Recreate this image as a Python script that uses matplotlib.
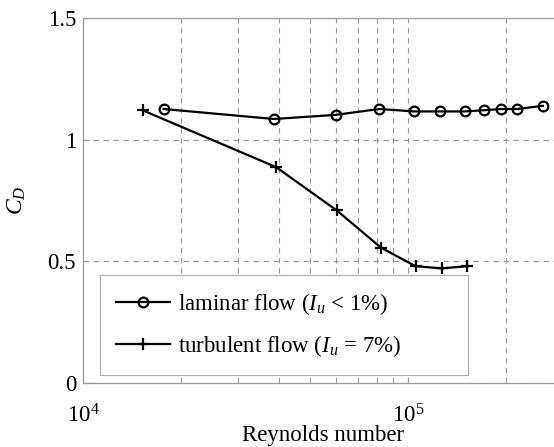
import numpy as np
import matplotlib
matplotlib.use('Agg')
import matplotlib.pyplot as plt
from matplotlib.ticker import FixedLocator, NullFormatter

plt.rcParams['font.family'] = ['Liberation Serif', 'DejaVu Serif']
plt.rcParams['mathtext.fontset'] = 'custom'
plt.rcParams['mathtext.rm'] = 'Liberation Serif'
plt.rcParams['mathtext.it'] = 'Liberation Serif:italic'

# laminar flow (Iu < 1%)
re_lam = [1.77e4, 3.87e4, 6.0e4, 8.15e4, 1.047e5, 1.257e5, 1.494e5, 1.715e5, 1.938e5, 2.165e5, 2.6e5]
cd_lam = [1.126, 1.085, 1.102, 1.126, 1.116, 1.116, 1.116, 1.121, 1.126, 1.126, 1.139]

# turbulent flow (Iu = 7%)
re_turb = [1.53e4, 3.93e4, 6.04e4, 8.26e4, 1.055e5, 1.27e5, 1.52e5]
cd_turb = [1.12, 0.887, 0.709, 0.556, 0.480, 0.471, 0.480]

lab_lam = r'laminar flow ($I_u$ < 1%)'
lab_turb = r'turbulent flow ($I_u$ = 7%)'

fig = plt.figure(figsize=(5.54, 4.47), dpi=100)
# axes runs past the right edge of the picture (right frame is cropped)
ax = fig.add_axes([83/554, 64/447, 480/554, 365/447])

ax.semilogx(re_lam, cd_lam, color='black', lw=1.6, marker='o', ms=7,
            mfc='none', mec='black', mew=1.6, label=lab_lam)
ax.semilogx(re_turb, cd_turb, color='black', lw=1.6, marker='+', ms=9,
            mew=1.6, label=lab_turb)

ax.set_xlim(1e4, 10**(480/325 + 4))
ax.set_ylim(0, 1.5)

ax.xaxis.set_major_locator(FixedLocator([1e4, 1e5]))
ax.xaxis.set_minor_locator(FixedLocator([2e4, 3e4, 4e4, 5e4, 6e4, 7e4, 8e4, 9e4, 2e5]))
ax.xaxis.set_minor_formatter(NullFormatter())
ax.set_xticklabels([r'$10^4$', r'$10^5$'])
ax.set_yticks([0, 0.5, 1, 1.5])
ax.set_yticklabels(['0', '0.5', '1', '1.5'])

ax.grid(True, which='both', axis='x', color='#9a9a9a', ls=(0, (5, 4)), lw=0.8)
ax.grid(True, which='major', axis='y', color='#9a9a9a', ls=(0, (5, 4)), lw=0.8)
ax.tick_params(axis='both', which='both', direction='in', length=4, color='#9a9a9a',
               labelsize=16.5)
ax.tick_params(axis='x', pad=15)
ax.tick_params(axis='y', pad=5)
for s in ax.spines.values():
    s.set_color('#9a9a9a')
    s.set_linewidth(0.9)

ax.set_ylabel(r'$C_D$', fontsize=17, labelpad=14)
ax.set_xlabel('Reynolds number', fontsize=16.5)
ax.xaxis.set_label_coords(0.5, -0.115)

leg = ax.legend(loc='lower left', bbox_to_anchor=(100/554, (447-375)/447, 368/554, 92/447),
                bbox_transform=fig.transFigure, mode='expand', fontsize=16.5,
                fancybox=False, framealpha=1, edgecolor='#b0b0b0', borderaxespad=0,
                handlelength=2.35, handletextpad=0.35, borderpad=0.7, labelspacing=0.7)
leg.get_frame().set_linewidth(0.9)

fig.savefig('out.png', dpi=100)
